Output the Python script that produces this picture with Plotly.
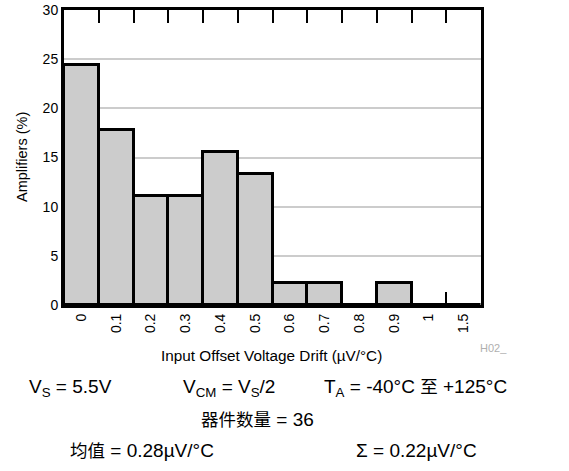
import plotly.graph_objects as go

categories = ["0", "0.1", "0.2", "0.3", "0.4", "0.5", "0.6", "0.7", "0.8", "0.9", "1", "1.5"]
amplifiers_pct = [24.44, 17.78, 11.11, 11.11, 15.56, 13.33, 2.22, 2.22, 0, 2.22, 0, 0]
y_ticks = [0, 5, 10, 15, 20, 25, 30]

W, H = 569, 471
L, R, T, B = 64, 88, 10, 166
FONT = "Liberation Sans, Arial, Helvetica, sans-serif"
CJK = "Liberation Sans, Noto Sans CJK SC, sans-serif"


def px(xp):
    return (xp - L) / (W - L - R)


def py(yp):
    return (H - B - yp) / (H - T - B)


def cjk(s):
    return '<span style="font-size:17.5px">' + s + "</span>"


n = len(categories)
boundaries = [i + 0.5 for i in range(n - 1)]

fig = go.Figure()
fig.add_trace(
    go.Bar(
        x=categories,
        y=amplifiers_pct,
        marker=dict(color="#cccccc", line=dict(color="black", width=3)),
        hoverinfo="skip",
    )
)
# invisible helper trace so the top axis (category boundary ticks) is drawn
fig.add_trace(
    go.Scatter(
        x=[0, n - 1], y=[0, 0], xaxis="x2", mode="markers",
        marker=dict(color="rgba(0,0,0,0)", size=1), hoverinfo="skip",
    )
)

fig.update_layout(
    width=W,
    height=H,
    margin=dict(l=L, r=R, t=T, b=B),
    paper_bgcolor="white",
    plot_bgcolor="white",
    bargap=0,
    showlegend=False,
    font=dict(family=FONT, color="black"),
    xaxis=dict(
        type="category",
        categoryorder="array",
        categoryarray=categories,
        range=[-0.5, n - 0.5],
        showline=True,
        linecolor="black",
        linewidth=3,
        mirror="ticks",
        ticks="inside",
        tickson="boundaries",
        ticklen=13,
        tickwidth=2,
        tickcolor="black",
        tickangle=-90,
        automargin=False,
        tickfont=dict(size=14, family=FONT),
        showgrid=False,
    ),
    xaxis2=dict(
        type="linear",
        range=[-0.5, n - 0.5],
        overlaying="x",
        anchor="y",
        side="top",
        tickmode="array",
        tickvals=boundaries,
        ticks="inside",
        ticklen=13,
        tickwidth=2,
        tickcolor="black",
        showticklabels=False,
        showgrid=False,
        zeroline=False,
        showline=False,
        automargin=False,
        fixedrange=True,
    ),
    yaxis=dict(
        range=[0, 30],
        tickvals=y_ticks,
        showline=True,
        linecolor="black",
        linewidth=3,
        mirror=True,
        ticks="",
        automargin=False,
        tickfont=dict(size=14, family=FONT),
        showgrid=True,
        gridcolor="#cccccc",
        gridwidth=1.5,
        zeroline=False,
    ),
)

# axis titles
fig.add_annotation(
    text="Input Offset Voltage Drift (µV/°C)", xref="paper", yref="paper",
    x=px(271), y=py(355), xanchor="center", yanchor="middle", showarrow=False,
    font=dict(size=15.3, family=FONT, color="black"),
)
fig.add_annotation(
    text="Amplifiers (%)", xref="paper", yref="paper",
    x=px(22), y=py(157), xanchor="center", yanchor="middle", showarrow=False,
    textangle=-90, font=dict(size=14.5, family=FONT, color="black"),
)

notes = [
    ("V<sub>S</sub> = 5.5V", 27, 388),
    ("V<sub>CM</sub> = V<sub>S</sub>/2", 181, 388),
    ("T<sub>A</sub> = -40°C " + cjk("至") + " +125°C", 322, 388),
    (cjk("器件数量") + " = 36", 199, 419),
    (cjk("均值") + " = 0.28µV/°C", 68, 450),
    ("Σ = 0.22µV/°C", 354, 450),
]
for text, x, y in notes:
    fig.add_annotation(
        text=text, xref="paper", yref="paper", x=px(x), y=py(y),
        xanchor="left", yanchor="middle", showarrow=False,
        font=dict(size=19, family=CJK, color="black"),
    )

fig.add_annotation(
    text="H02_", xref="paper", yref="paper", x=px(478), y=py(348),
    xanchor="left", yanchor="middle", showarrow=False,
    font=dict(size=11, family=FONT, color="#b0b0b0"),
)

fig.write_html("out.html")
